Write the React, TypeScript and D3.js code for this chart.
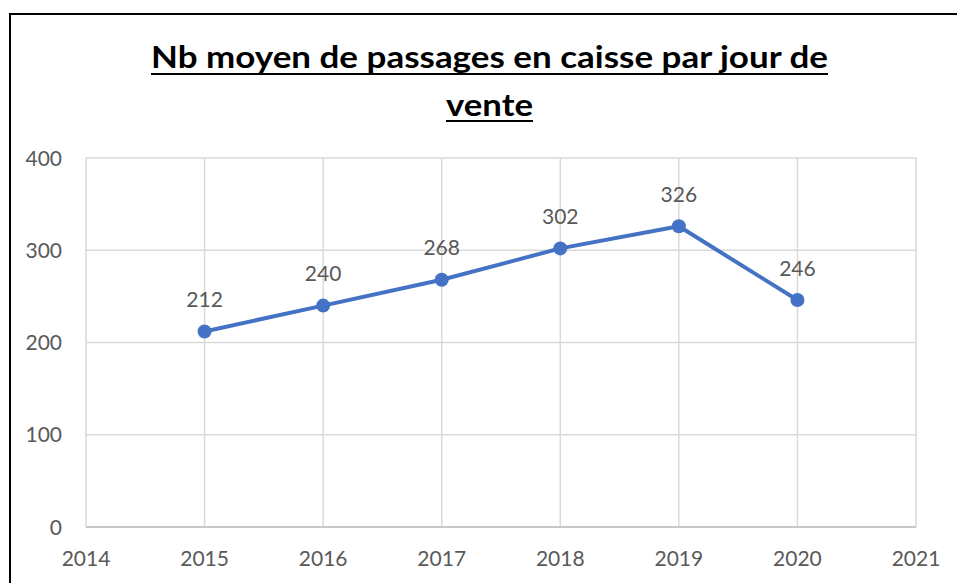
import React from "react";
import * as d3 from "d3";

const years = [2015, 2016, 2017, 2018, 2019, 2020];
const values = [212, 240, 268, 302, 326, 246];
const xTicks = [2014, 2015, 2016, 2017, 2018, 2019, 2020, 2021];
const yTicks = [0, 100, 200, 300, 400];
const titleLines = ["Nb moyen de passages en caisse par jour de", "vente"];

const W = 957;
const H = 583;
const plot = { left: 86, right: 916, top: 158, bottom: 527 };

export default function App() {
  const x = d3.scaleLinear().domain([2014, 2021]).range([plot.left, plot.right]);
  const y = d3.scaleLinear().domain([0, 400]).range([plot.bottom, plot.top]);
  const pts: [number, number][] = years.map((yr, i) => [x(yr), y(values[i])]);
  const line = d3.line()(pts) || "";
  const font = "Lato, 'Open Sans', sans-serif";
  const textColor = "#595959";
  const grid = "#d9d9d9";

  return (
    <svg
      width={W}
      height={H}
      style={{ position: "absolute", left: 0, top: 0, background: "#fff" }}
    >
      <rect x={0} y={0} width={W} height={H} fill="#fff" />
      <rect x={10} y={14} width={W + 20} height={H + 20} fill="none" stroke="#000" strokeWidth={2} />
      {/* title */}
      <text
        x={489.5}
        y={68}
        textAnchor="middle"
        fontFamily={font}
        fontWeight={700}
        fontSize={30}
        fill="#000"
        textLength={677}
        lengthAdjust="spacingAndGlyphs"
      >
        {titleLines[0]}
      </text>
      <line x1={151} x2={828} y1={74} y2={74} stroke="#000" strokeWidth={2} />
      <text
        x={489.5}
        y={116}
        textAnchor="middle"
        fontFamily={font}
        fontWeight={700}
        fontSize={30}
        fill="#000"
        textLength={87}
        lengthAdjust="spacingAndGlyphs"
      >
        {titleLines[1]}
      </text>
      <line x1={446} x2={533} y1={121} y2={121} stroke="#000" strokeWidth={2} />

      {/* grid */}
      {yTicks.map((t) => (
        <line key={"gy" + t} x1={plot.left} x2={plot.right} y1={y(t)} y2={y(t)} stroke={grid} strokeWidth={1.5} />
      ))}
      {xTicks.map((t) => (
        <line key={"gx" + t} x1={x(t)} x2={x(t)} y1={plot.top} y2={plot.bottom} stroke={grid} strokeWidth={1.5} />
      ))}
      <line x1={plot.left} x2={plot.right} y1={plot.bottom} y2={plot.bottom} stroke="#bfbfbf" strokeWidth={1.5} />

      {/* y tick labels */}
      {yTicks.map((t) => (
        <text
          key={"ty" + t}
          x={62}
          y={y(t)}
          dy="0.36em"
          textAnchor="end"
          fontFamily={font}
          fontSize={21}
          fill={textColor}
        >
          {t}
        </text>
      ))}
      {/* x tick labels */}
      {xTicks.map((t) => (
        <text
          key={"tx" + t}
          x={x(t)}
          y={566}
          textAnchor="middle"
          fontFamily={font}
          fontSize={21}
          fill={textColor}
        >
          {t}
        </text>
      ))}

      {/* line */}
      <path d={line} fill="none" stroke="#4472C4" strokeWidth={4} strokeLinejoin="round" strokeLinecap="round" />
      {pts.map(([px, py], i) => (
        <circle key={"c" + i} cx={px} cy={py} r={7} fill="#4472C4" />
      ))}
      {pts.map(([px, py], i) => (
        <text
          key={"l" + i}
          x={px}
          y={py - 24.5}
          textAnchor="middle"
          fontFamily={font}
          fontSize={21}
          fill={textColor}
        >
          {values[i]}
        </text>
      ))}
    </svg>
  );
}
